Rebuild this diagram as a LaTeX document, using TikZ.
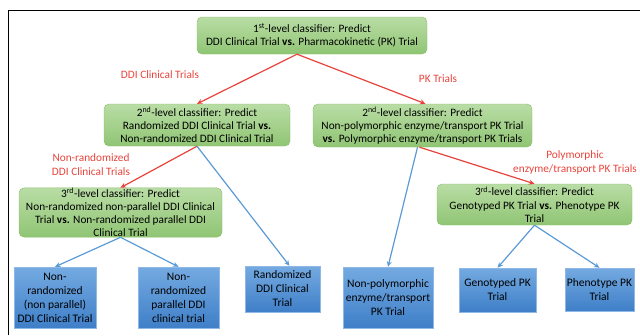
\documentclass[tikz,border=0pt]{standalone}
\usepackage{fontspec}
\setmainfont{Carlito}
\usetikzlibrary{positioning,arrows.meta}

\definecolor{grntop}{HTML}{B9DDA5}
\definecolor{grnbot}{HTML}{90C574}
\definecolor{grnline}{HTML}{86BC66}
\definecolor{blutop}{HTML}{74AAE1}
\definecolor{blubot}{HTML}{3F7FC8}
\definecolor{bluline}{HTML}{8FB8E6}
\definecolor{redarrow}{HTML}{E8433B}
\definecolor{bluarrow}{HTML}{5B9BD5}

\tikzset{
  clsbox/.style={draw=grnline, top color=grntop, bottom color=grnbot, rounded corners=5pt,
    align=center, inner sep=0pt, font=\fontsize{11.3}{13.2}\selectfont},
  leafbox/.style={draw=bluline, top color=blutop, bottom color=blubot,
    align=center, inner sep=0pt, font=\fontsize{11.5}{14}\selectfont},
  redlbl/.style={text=redarrow, align=center, font=\fontsize{11.3}{14.5}\selectfont},
  redarr/.style={draw=redarrow, line width=1.2pt, -{Stealth[length=5.5pt,width=5pt]}},
  bluarr/.style={draw=bluarrow, line width=1.2pt, -{Stealth[length=5.5pt,width=5pt]}},
}

\begin{document}
\begin{tikzpicture}[x=1pt,y=-1pt]
\useasboundingbox (0,0) rectangle (640,335);

%%% frame
\draw[line width=0.9pt] (8,335) -- (8,10.5) -- (640,10.5);

%%% classifiers
\node[clsbox, minimum width=230, minimum height=37] (top) at (312,35.5)
  {1\textsuperscript{st}-level classifier: Predict\\DDI Clinical Trial \textbf{vs.} Pharmacokinetic (PK) Trial};
\node[clsbox, minimum width=186, minimum height=42] (ddi) at (197,125)
  {2\textsuperscript{nd}-level classifier: Predict\\Randomized DDI Clinical Trial \textbf{vs.}\\Non-randomized DDI Clinical Trial};
\node[clsbox, minimum width=219, minimum height=43] (pk) at (422.5,125.5)
  {2\textsuperscript{nd}-level classifier: Predict\\Non-polymorphic enzyme/transport PK Trial\\\textbf{vs.} Polymorphic enzyme/transport PK Trials};
\node[clsbox, minimum width=203, minimum height=49] (nonrnd) at (120.5,212.5)
  {3\textsuperscript{rd}-level classifier: Predict\\Non-randomized non-parallel DDI Clinical\\Trial \textbf{vs.} Non-randomized parallel DDI\\Clinical Trial};
\node[clsbox, minimum width=195, minimum height=41] (poly) at (534.5,204.5)
  {3\textsuperscript{rd}-level classifier: Predict\\Genotyped PK Trial \textbf{vs.} Phenotype PK\\Trial};

%%% leaves
\node[leafbox, minimum width=82, minimum height=61] (nonpar) at (55,297.5)
  {Non-\\randomized\\(non parallel)\\DDI Clinical Trial};
\node[leafbox, minimum width=81, minimum height=61] (par) at (178.5,297.5)
  {Non-\\randomized\\parallel DDI\\clinical trial};
\node[leafbox, minimum width=75, minimum height=46] (rnd) at (282.5,289)
  {Randomized\\DDI Clinical\\Trial};
\node[leafbox, minimum width=90, minimum height=61] (nonpoly) at (388,297.5)
  {Non-polymorphic\\enzyme/transport\\PK Trial};
\node[leafbox, minimum width=77, minimum height=44] (geno) at (497.5,290)
  {Genotyped PK\\Trial};
\node[leafbox, minimum width=69, minimum height=43] (pheno) at (599.5,289.5)
  {Phenotype PK\\Trial};

%%% red arrows
\draw[redarr] ([xshift=-15]top.south) -- (ddi.north);
\draw[redarr] ([xshift=-15]top.south) -- ([xshift=3]pk.north);
\draw[redarr] (ddi.south) -- (nonrnd.north);
\draw[redarr] ([xshift=-3]pk.south) -- (poly.north);

%%% blue arrows
\draw[bluarr] (ddi.south) -- ([xshift=7]rnd.north);
\draw[bluarr] (nonrnd.south) -- (nonpar.north);
\draw[bluarr] (nonrnd.south) -- (par.north);
\draw[bluarr] ([xshift=-5]pk.south) -- (nonpoly.north);
\draw[bluarr] (poly.south) -- (geno.north);
\draw[bluarr] (poly.south) -- (pheno.north);

%%% labels
\node[redlbl] (lblddi) at (160,75) {DDI Clinical Trials};
\node[redlbl] (lblpk) at (438,79) {PK Trials};
\node[redlbl] (lblnonrnd) at (91,164.5) {Non-randomized\\DDI Clinical Trials};
\node[redlbl] (lblpoly) at (575,162.5) {Polymorphic\\enzyme/transport PK Trials};

\end{tikzpicture}
\end{document}
